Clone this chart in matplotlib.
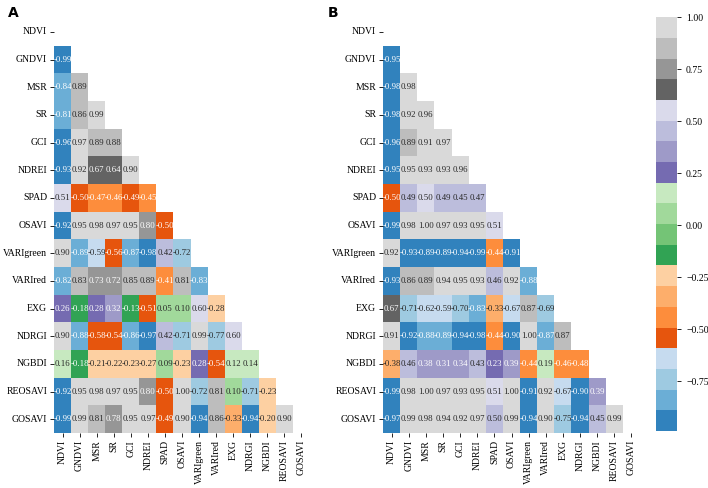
import numpy as np
import pandas as pd
import matplotlib
matplotlib.use("Agg")
import matplotlib.pyplot as plt
import seaborn as sns

plt.rcParams['font.family'] = ['Liberation Serif', 'DejaVu Serif']

labels = ["NDVI", "GNDVI", "MSR", "SR", "GCI", "NDREI", "SPAD", "OSAVI",
          "VARIgreen", "VARIred", "EXG", "NDRGI", "NGBDI", "REOSAVI", "GOSAVI"]

# lower triangle of the correlation matrix, row by row (panel A)
a_rows = [
    [],
    [-0.99],
    [-0.84, 0.89],
    [-0.81, 0.86, 0.99],
    [-0.96, 0.97, 0.89, 0.88],
    [-0.93, 0.92, 0.67, 0.64, 0.902],
    [0.51, -0.50, -0.47, -0.46, -0.494, -0.45],
    [-0.92, 0.95, 0.98, 0.97, 0.95, 0.80, -0.50],
    [0.902, -0.888, -0.594, -0.56, -0.87, -0.98, 0.42, -0.72],
    [-0.82, 0.83, 0.73, 0.72, 0.85, 0.89, -0.41, 0.81, -0.83],
    [0.26, -0.18, 0.28, 0.32, -0.13, -0.51, 0.05, 0.10, 0.598, -0.28],
    [0.902, -0.88, -0.58, -0.54, -0.86, -0.97, 0.42, -0.71, 0.99, -0.77, 0.598],
    [0.16, -0.18, -0.21, -0.22, -0.23, -0.27, 0.09, -0.23, 0.28, -0.54, 0.12, 0.14],
    [-0.92, 0.95, 0.98, 0.97, 0.95, 0.80, -0.50, 1.00, -0.72, 0.81, 0.10, -0.71, -0.23],
    [-0.99, 0.99, 0.81, 0.78, 0.95, 0.97, -0.494, 0.902, -0.94, 0.86, -0.33, -0.94, -0.20, 0.902],
]

# panel B
b_rows = [
    [],
    [-0.95],
    [-0.98, 0.98],
    [-0.98, 0.92, 0.96],
    [-0.96, 0.89, 0.91, 0.97],
    [-0.95, 0.95, 0.93, 0.93, 0.96],
    [-0.50, 0.49, 0.503, 0.49, 0.45, 0.47],
    [-0.99, 0.98, 1.00, 0.97, 0.93, 0.95, 0.51],
    [0.92, -0.93, -0.893, -0.893, -0.94, -0.99, -0.44, -0.91],
    [-0.93, 0.86, 0.89, 0.94, 0.95, 0.93, 0.46, 0.92, -0.88],
    [0.67, -0.71, -0.62, -0.594, -0.70, -0.83, -0.33, -0.67, 0.87, -0.692],
    [0.91, -0.92, -0.88, -0.888, -0.94, -0.98, -0.44, -0.90, 1.00, -0.87, 0.87],
    [-0.38, 0.46, 0.38, 0.31, 0.34, 0.43, 0.23, 0.39, -0.44, 0.19, -0.46, -0.48],
    [-0.99, 0.98, 1.00, 0.97, 0.93, 0.95, 0.51, 1.00, -0.91, 0.92, -0.67, -0.90, 0.39],
    [-0.97, 0.99, 0.98, 0.94, 0.92, 0.97, 0.50, 0.99, -0.94, 0.902, -0.75, -0.94, 0.45, 0.99],
]


def build(rows):
    n = len(labels)
    m = np.ones((n, n))
    for i, r in enumerate(rows):
        for j, v in enumerate(r):
            m[i, j] = v
            m[j, i] = v
    return pd.DataFrame(m, index=labels, columns=labels)


mask = np.triu(np.ones((len(labels), len(labels)), dtype=bool))

fig = plt.figure(figsize=(7.08, 4.88), dpi=100)
ax_a = fig.add_axes([0.0763, 0.1127, 0.3616, 0.8504])
ax_b = fig.add_axes([0.541, 0.1127, 0.363, 0.8504])
cax = fig.add_axes([0.9266, 0.1168, 0.0297, 0.848])

kw = dict(mask=mask, cmap="tab20c", vmin=-0.99, vmax=1.0, annot=True, fmt=".2f",
          annot_kws={"size": 6.3})
sns.heatmap(build(a_rows), ax=ax_a, cbar=False, **kw)
sns.heatmap(build(b_rows), ax=ax_b, cbar=True, cbar_ax=cax, **kw)

for ax in (ax_a, ax_b):
    ax.set_xticklabels(labels, rotation=90, fontsize=7)
    ax.set_yticklabels(labels, rotation=0, fontsize=7)
    ax.tick_params(length=3, width=0.6, pad=2)

cax.tick_params(labelsize=7, length=3, width=0.6)

fig.text(0.011, 0.965, "A", fontsize=10, fontweight="bold", family="DejaVu Sans")
fig.text(0.463, 0.965, "B", fontsize=10, fontweight="bold", family="DejaVu Sans")

fig.savefig("out.png", dpi=100)
